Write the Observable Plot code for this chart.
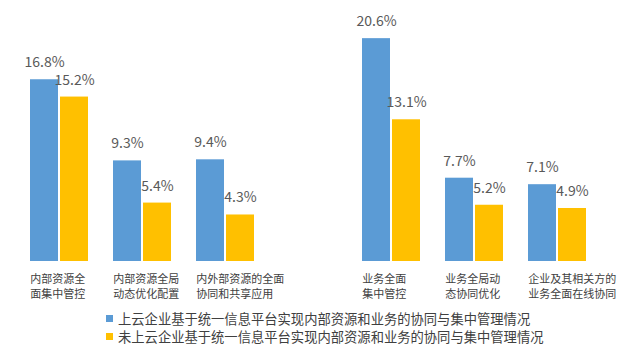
<!DOCTYPE html>
<html>
<head>
<meta charset="utf-8">
<script src="https://cdn.jsdelivr.net/npm/d3@7"></script>
<script src="https://cdn.jsdelivr.net/npm/@observablehq/plot@0.6"></script>
<style>
  html, body { margin: 0; padding: 0; background: #fff; }
  body { width: 640px; height: 357px; overflow: hidden; font-family: "Noto Sans CJK SC", "Noto Sans", sans-serif; }
  #legend { padding-left: 106px; padding-top: 4px; }
  .row { display: flex; align-items: center; height: 18px; line-height: 17px; font-size: 13.3px; color: #404040; white-space: nowrap; overflow: hidden; }
  .row span { line-height: 17px; }
  .sw { width: 7px; height: 7px; margin-right: 5px; flex: none; }
</style>
</head>
<body>
<div id="chart"></div>
<div id="legend"></div>
<script>
const categories = [
  "内部资源全\n面集中管控",
  "内部资源全局\n动态优化配置",
  "内外部资源的全面\n协同和共享应用",
  "业务全面\n集中管控",
  "业务全局动\n态协同优化",
  "企业及其相关方的\n业务全面在线协同"
];
const seriesNames = [
  "上云企业基于统一信息平台实现内部资源和业务的协同与集中管理情况",
  "未上云企业基于统一信息平台实现内部资源和业务的协同与集中管理情况"
];
const cloudValues = [16.8, 9.3, 9.4, 20.6, 7.7, 7.1];
const nonCloudValues = [15.2, 5.4, 4.3, 13.1, 5.2, 4.9];
const seriesColors = ["#5B9BD5", "#FFC000"];
const gapKey = "";

const rows = [];
categories.forEach((c, i) => {
  rows.push({category: c, series: seriesNames[0], value: cloudValues[i]});
  rows.push({category: c, series: seriesNames[1], value: nonCloudValues[i]});
});
const fxDomain = [categories[0], categories[1], categories[2], gapKey, categories[3], categories[4], categories[5]];
const labelRows = categories.map(c => ({category: c, series: seriesNames[0]}));

const chart = Plot.plot({
  width: 640,
  height: 305,
  marginTop: 23,
  marginBottom: 44,
  marginLeft: 17,
  marginRight: 41.5,
  style: {fontFamily: '"Noto Sans CJK SC", "Noto Sans", sans-serif', background: "#fff"},
  fx: {domain: fxDomain, padding: 0, axis: null},
  x: {domain: seriesNames, paddingInner: 0.08, paddingOuter: 0.38, axis: null},
  y: {domain: [0, 22], axis: null},
  color: {domain: seriesNames, range: seriesColors},
  marks: [
    Plot.barY(rows, {fx: "category", x: "series", y: "value", fill: "series"}),
    Plot.text(rows, {
      fx: "category", x: "series", y: "value",
      text: d => d.value.toFixed(1) + "%",
      lineAnchor: "bottom", dy: -12.5,
      fontSize: 14, fill: "#595959"
    }),
    Plot.text(labelRows, {
      fx: "category", x: "series", y: () => 0,
      text: "category",
      textAnchor: "start", dx: -14.3,
      lineAnchor: "top", dy: 10,
      lineHeight: 1.42,
      fontSize: 11, fill: "#404040"
    })
  ]
});
document.getElementById("chart").appendChild(chart);

const legend = document.getElementById("legend");
seriesNames.forEach((name, i) => {
  const row = document.createElement("div");
  row.className = "row";
  const sw = document.createElement("span");
  sw.className = "sw";
  sw.style.background = seriesColors[i];
  const label = document.createElement("span");
  label.textContent = name;
  row.appendChild(sw);
  row.appendChild(label);
  legend.appendChild(row);
});
</script>
</body>
</html>
